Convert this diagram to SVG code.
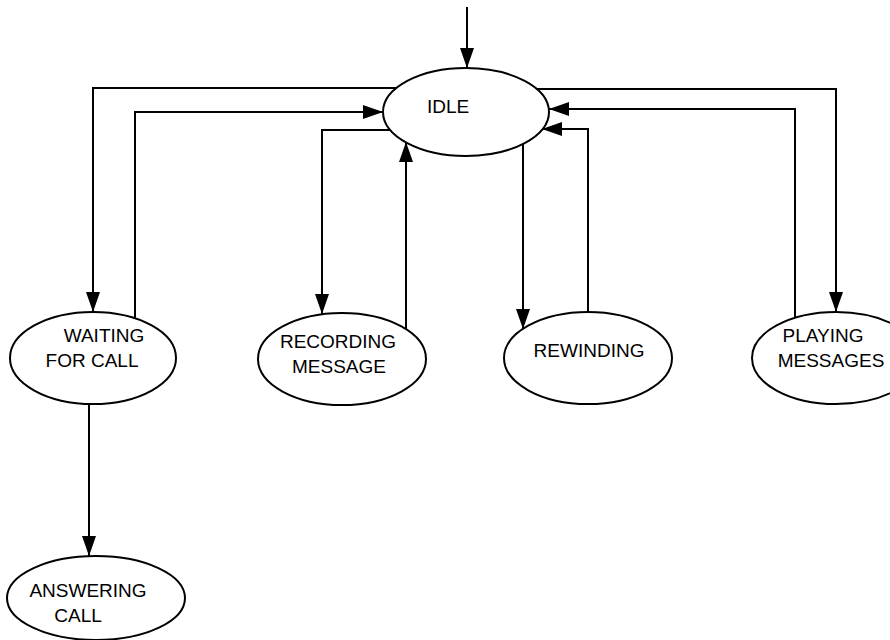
<svg xmlns="http://www.w3.org/2000/svg" width="890" height="640" viewBox="0 0 890 640">
<defs>
<marker id="ah" markerUnits="userSpaceOnUse" markerWidth="20" markerHeight="14" refX="20" refY="7" orient="auto">
<path d="M0,0 L20,7 L0,14 z" fill="#000"/>
</marker>
<style>
.node ellipse{fill:#fff;stroke:#000;stroke-width:2}
.node text{font-family:"Liberation Sans",Arial,sans-serif;font-size:19px;fill:#000;text-anchor:middle}
.edges path{fill:none;stroke:#000;stroke-width:2;marker-end:url(#ah)}
</style>
</defs>
<rect width="890" height="640" fill="#fff"/>
<g class="edges" id="connectors">
<path d="M467,7 L467,68"/>
<path d="M397,88 L93,88 L93,312"/>
<path d="M135,318 L135,112 L383,112"/>
<path d="M390,130 L322,130 L322,314"/>
<path d="M406,329 L406,142"/>
<path d="M523,144 L523,329"/>
<path d="M588,312 L588,129 L542,129"/>
<path d="M795,318 L795,109 L549,109"/>
<path d="M535,89 L836,89 L836,312"/>
<path d="M89,404 L89,556"/>
</g>
<g class="node" id="idle">
<ellipse cx="466" cy="112" rx="83" ry="44"/>
<text x="448" y="113">IDLE</text>
</g>
<g class="node" id="waiting">
<ellipse cx="93" cy="358" rx="83" ry="46"/>
<text x="104" y="342">WAITING</text>
<text x="92" y="367">FOR CALL</text>
</g>
<g class="node" id="recording">
<ellipse cx="342" cy="359" rx="84" ry="46"/>
<text x="338" y="348">RECORDING</text>
<text x="339" y="373">MESSAGE</text>
</g>
<g class="node" id="rewinding">
<ellipse cx="588" cy="358" rx="84" ry="46"/>
<text x="589" y="357">REWINDING</text>
</g>
<g class="node" id="playing">
<ellipse cx="836" cy="358" rx="84" ry="46"/>
<text x="823" y="342">PLAYING</text>
<text x="831" y="367">MESSAGES</text>
</g>
<g class="node" id="answering">
<ellipse cx="96" cy="598" rx="89" ry="42"/>
<text x="88" y="597">ANSWERING</text>
<text x="78" y="622">CALL</text>
</g>
</svg>
